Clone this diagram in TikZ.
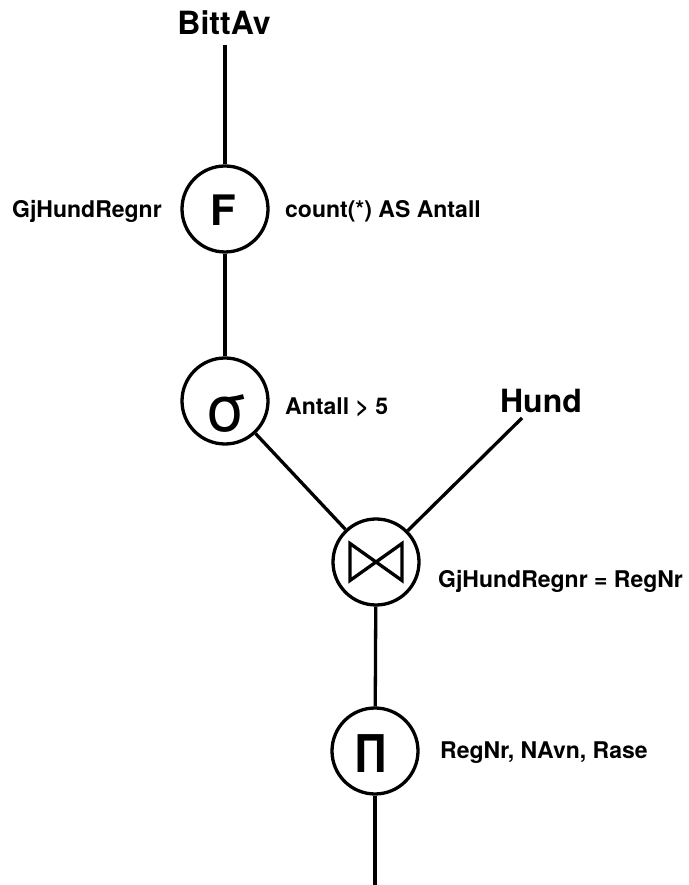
\documentclass[tikz,border=0pt]{standalone}
\usepackage{fontspec}
\setmainfont{TeX Gyre Heros}
\begin{document}
\begin{tikzpicture}[x=1pt,y=1pt,
  op/.style={circle,draw,line width=3.3pt,minimum size=86pt,inner sep=0pt},
  lbl/.style={font=\fontsize{23}{23}\selectfont\bfseries,inner sep=0pt,anchor=base west},
  rel/.style={font=\fontsize{32}{32}\selectfont\bfseries,inner sep=0pt,anchor=base},
  edge/.style={line width=3.3pt}]
\useasboundingbox (0,0) rectangle (688,885);
% operator circles
\node[op] (F) at (225,676) {};
\node[op] (S) at (225,484) {};
\node[op] (J) at (376,323) {};
\node[op] (P) at (375,134) {};
% symbols
\node[inner sep=0pt,font=\fontsize{42}{42}\selectfont\bfseries] (Fs) at (223,675) {F};
\node[inner sep=0pt,font=\fontsize{64}{64}\selectfont] (Ss) at (226,471) {σ};
\node[inner sep=0pt,font=\fontsize{52}{52}\selectfont\bfseries] (Ps) at (371,131) {\scalebox{0.85}[1]{Π}};
\draw[line width=3.3pt,line join=miter] ([shift={(-26,18.5)}]J.center) -- ([shift={(-26,-18.5)}]J.center) -- ([shift={(26,18.5)}]J.center) -- ([shift={(26,-18.5)}]J.center) -- cycle;
% relation names
\node[rel] (B) at (224,850) {BittAv};
\node[rel] (H) at (541,472) {Hund};
% labels
\node[lbl] (l1) at (12,667) {GjHundRegnr};
\node[lbl] (l2) at (285,667) {count(*) AS Antall};
\node[lbl] (l3) at (285,470) {Antall > 5};
\node[lbl] (l4) at (438,297) {GjHundRegnr = RegNr};
\node[lbl] (l5) at (440,126) {RegNr, NAvn, Rase};
% connectors
\coordinate (top) at (225,840);
\coordinate (hundend) at (522,467);
\coordinate (bot) at (375,0);
\draw[edge] (top) -- (F);
\draw[edge] (F) -- (S);
\draw[edge] (S) -- (J);
\draw[edge] (hundend) -- (J);
\draw[edge] (J) -- (P);
\draw[edge] (P) -- (bot);
\end{tikzpicture}
\end{document}
